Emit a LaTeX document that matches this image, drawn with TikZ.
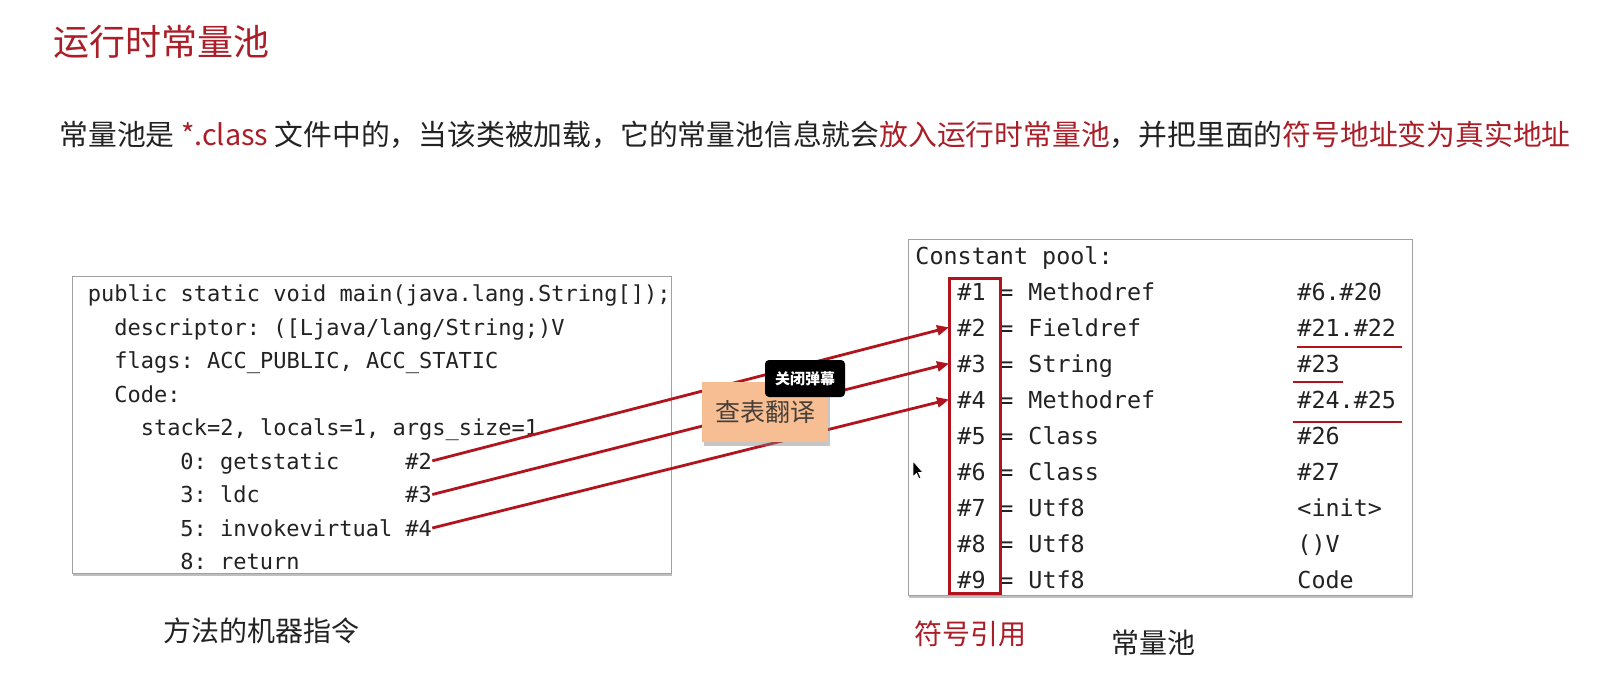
\documentclass[tikz,border=0pt]{standalone}
\usepackage{fontspec}
\setmainfont{Noto Sans CJK SC}
\newfontfamily\codefont{DejaVu Sans Mono}
\usetikzlibrary{arrows.meta,shadows}

\definecolor{titlered}{RGB}{170,30,40}
\definecolor{inkgray}{RGB}{34,34,34}
\definecolor{arrowred}{RGB}{178,20,30}
\definecolor{boxgray}{RGB}{160,160,160}
\definecolor{peach}{RGB}{246,190,146}
\definecolor{peachtext}{RGB}{72,62,56}

\begin{document}
\begin{tikzpicture}[x=0.5pt, y=-0.5pt, >={Triangle[length=6pt,width=5pt]},
  code/.style={anchor=base west, inner sep=0pt, text=inkgray,
    font=\codefont\frenchspacing\fontsize{11}{13}\selectfont},
  pool/.style={code, font=\codefont\frenchspacing\fontsize{11.7}{14}\selectfont},
  caption/.style={anchor=base west, inner sep=0pt, text=inkgray,
    font=\fontsize{14}{17}\selectfont},
  panel/.style={draw=boxgray, line width=0.5pt, fill=white,
    drop shadow={shadow xshift=0.6pt, shadow yshift=-1.6pt, opacity=0.5}},
  refline/.style={->, draw=arrowred, line width=1.4pt},
  markline/.style={draw=arrowred, line width=1.2pt}]

\useasboundingbox (0,0) rectangle (1615,693);

% heading
\node[anchor=base west, inner sep=0pt, text=titlered, font=\fontsize{18}{22}\selectfont]
  (title) at (53,55) {运行时常量池};
\node[anchor=base west, inner sep=0pt, text=inkgray, font=\fontsize{14.4}{18}\selectfont]
  (intro) at (59,145) {常量池是 \textcolor{titlered}{*.class} 文件中的，当该类被加载，它的常量池信息就会\textcolor{titlered}{放入运行时常量池}，并把里面的\textcolor{titlered}{符号地址变为真实地址}};

% method code
\draw[panel] (72,276) rectangle (671,573);
\node[code] (sig) at (87.5,301.5) {public static void main(java.lang.String[]);};
\node[code] at (114,335) {descriptor: ([Ljava/lang/String;)V};
\node[code] at (114,368.5) {flags: ACC\_PUBLIC, ACC\_STATIC};
\node[code] at (114,402) {Code:};
\node[code] at (140.5,435.5) {stack=2, locals=1, args\_size=1};
\node[code] at (180,469) {0: getstatic};
\node[code] at (180,502.5) {3: ldc};
\node[code] at (180,536) {5: invokevirtual};
\node[code] at (180,569.5) {8: return};
\node[code] (ref2) at (405,469) {\#2};
\node[code] (ref3) at (405,502.5) {\#3};
\node[code] (ref4) at (405,536) {\#4};

% constant pool
\draw[panel] (908,239) rectangle (1412,595);
\node[pool] (head) at (915,264) {Constant pool:};
\foreach \i/\kind/\val in {1/Methodref/{\#6.\#20}, 2/Fieldref/{\#21.\#22},
    3/String/{\#23}, 4/Methodref/{\#24.\#25}, 5/Class/{\#26}, 6/Class/{\#27},
    7/Utf8/{<init>}, 8/Utf8/{()V}, 9/Utf8/{Code}} {
  \node[pool] (h\i) at (957,264+36*\i) {\#\i};
  \node[pool] at (999,264+36*\i) {=};
  \node[pool] at (1028,264+36*\i) {\kind};
  \node[pool] (v\i) at (1297,264+36*\i) {\val};
}
\draw[draw=arrowred, line width=1.5pt] (949,278) coordinate (symnw) rectangle (1000,593);
\draw[markline] (1297,347) -- (1402,347);
\draw[markline] (1293,382) -- (1343,382);
\draw[markline] (1293,422) -- (1402,422);

% references
\foreach \k in {2,3,4}
  \draw[refline] (ref\k.east) -- (symnw |- h\k);

\node[fill=peach, minimum width=63pt, minimum height=30pt, inner sep=0pt,
  text=peachtext, font=\fontsize{12.5}{15}\selectfont,
  drop shadow={shadow xshift=0.8pt, shadow yshift=-1.8pt, opacity=0.45}]
  (lookup) at (765,412) {查表翻译};
\node[fill=black, rounded corners=2pt, minimum width=40pt, minimum height=18.5pt,
  inner sep=0pt, text=white, font=\bfseries\fontsize{7.5}{9}\selectfont]
  (danmaku) at (805,378.5) {关闭弹幕};

% pointer
\draw[fill=black, draw=white, line width=0.4pt] (913,461) -- (913,477) -- (916.5,473.5)
  -- (919,479) -- (921,478) -- (918.5,472.5) -- (923,472.5) -- cycle;

% captions
\node[caption] (codecap) at (163,641) {方法的机器指令};
\node[caption, text=titlered] (symcap) at (914,644) {符号引用};
\node[caption] (poolcap) at (1111,653) {常量池};
\end{tikzpicture}
\end{document}
